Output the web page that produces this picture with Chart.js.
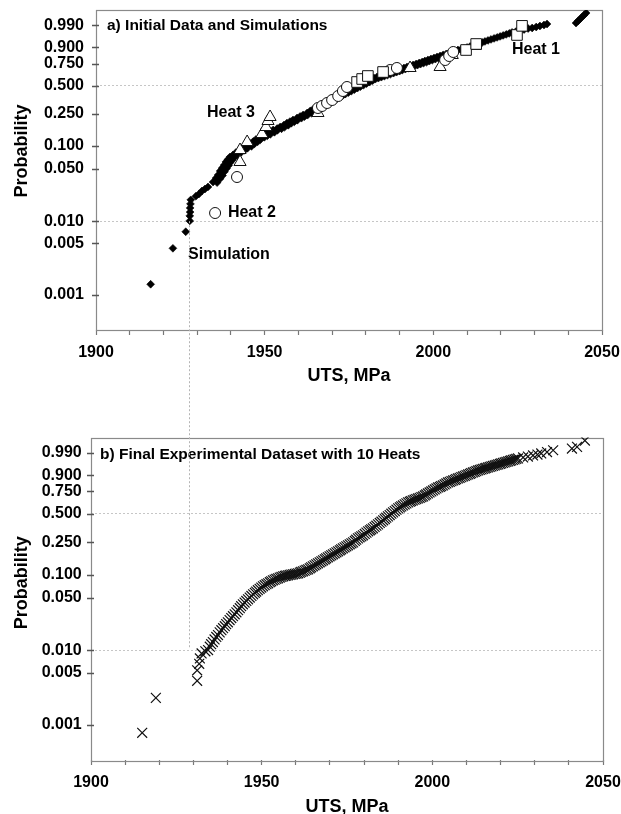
<!DOCTYPE html>
<html>
<head>
<meta charset="utf-8">
<script src="https://cdn.jsdelivr.net/npm/chart.js@4.4.0/dist/chart.umd.min.js"></script>
<style>
  html, body { margin: 0; padding: 0; background: #fff; }
  #wrap { position: relative; width: 621px; height: 814px; overflow: hidden; }
  #cA { position: absolute; left: 0; top: 0; }
  #cB { position: absolute; left: 0; top: 400px; }
  #overlay { position: absolute; left: 0; top: 0; pointer-events: none; }
</style>
</head>
<body>
<div id="wrap">
  <canvas id="cA" width="621" height="400"></canvas>
  <canvas id="cB" width="621" height="414"></canvas>
  <canvas id="overlay" width="621" height="814"></canvas>
</div>
<script>
const FONT = '"Liberation Sans", Arial, Helvetica, sans-serif';

// Weibull probability transform used for the vertical axis
const weib = p => Math.log(-Math.log(1 - p));

// Axis ticks
const probTicks = [0.001, 0.005, 0.010, 0.050, 0.100, 0.250, 0.500, 0.750, 0.900, 0.990];
const probTickLabels = ['0.001', '0.005', '0.010', '0.050', '0.100', '0.250', '0.500', '0.750', '0.900', '0.990'];
const probGrid = [0.010, 0.500];
const utsTicks = [1900, 1910, 1920, 1930, 1940, 1950, 1960, 1970, 1980, 1990, 2000, 2010, 2020, 2030, 2040, 2050];
const utsTickLabels = ['1900', '', '', '', '', '1950', '', '', '', '', '2000', '', '', '', '', '2050'];

// a) simulated strengths (MPa) and their plotting probabilities (overlaid runs)
const simUTS = [
  1916.2, 1922.8, 1926.6, 1927.8, 1927.8, 1927.9, 1927.9, 1928.0, 1928.1, 1929.6,
  1930.5, 1931.4, 1932.3, 1933.2, 1934.7, 1935.6, 1936.2, 1936.8, 1937.4, 1938.0,
  1938.5, 1939.1, 1939.7, 1940.6, 1941.5, 1942.7, 1943.6, 1944.8, 1945.7, 1946.6,
  1947.4, 1948.6, 1949.5, 1950.4, 1951.6, 1952.5, 1953.7, 1954.6, 1955.7, 1956.6,
  1957.5, 1958.4, 1959.6, 1960.5, 1961.4, 1962.6, 1963.5, 1964.3, 1965.5, 1966.4,
  1967.3, 1968.2, 1969.1, 1970.0, 1970.9, 1971.8, 1972.6, 1973.5, 1974.4, 1975.3,
  1976.2, 1977.1, 1978.0, 1978.9, 1979.8, 1980.7, 1981.5, 1982.4, 1983.3, 1984.2,
  1985.1, 1986.0, 1986.9, 1987.8, 1988.7, 1989.5, 1990.4, 1991.3, 1992.2, 1993.1,
  1994.0, 1994.9, 1995.8, 1996.7, 1997.5, 1998.4, 1999.3, 2000.2, 2001.1, 2002.0,
  2002.9, 2003.8, 2004.7, 2005.6, 2006.4, 2007.3, 2008.2, 2009.1, 2010.0, 2010.9,
  2011.8, 2012.7, 2013.6, 2014.5, 2015.3, 2016.2, 2017.1, 2018.0, 2018.9, 2019.8,
  2020.7, 2021.6, 2022.5, 2023.3, 2024.5, 2025.7, 2026.9, 2028.1, 2029.3, 2030.5,
  2031.6, 2032.8, 2033.7, 2042.3, 2042.9, 2043.5, 2044.1, 2044.7, 2045.3,
  1935.9, 1936.8, 1937.5, 1938.1, 1938.7, 1939.3, 1939.8, 1940.4, 1941.0, 1942.0,
  1942.9, 1944.0, 1944.9, 1946.1, 1947.0, 1947.9, 1948.7, 1949.9, 1950.8, 1951.7,
  1952.9, 1953.8, 1955.0, 1955.9, 1957.0, 1957.9, 1958.8, 1959.7, 1960.9, 1961.8,
  1962.7, 1963.9, 1964.8, 1965.6, 1966.8, 1967.7, 1968.6, 1969.5, 1970.4, 1971.3,
  1972.2, 1973.1, 1973.9, 1974.8, 1975.7, 1976.6, 1977.5, 1978.4, 1979.3, 1980.2,
  1981.1, 1982.0, 1982.8, 1983.7, 1984.6, 1985.5, 1986.4, 1987.3, 1988.2, 1989.1,
  1990.0, 1990.8, 1991.7, 1992.6, 1993.5, 1994.4, 1995.3, 1996.2, 1997.1, 1998.0,
  1998.8, 1999.7, 2000.6, 2001.5, 2002.4, 2003.3, 2004.2, 2005.1
];
const simProb = [
  0.0014, 0.0043, 0.0072, 0.0101, 0.0118, 0.0133, 0.0151, 0.0171, 0.0194, 0.0217,
  0.0232, 0.0255, 0.0271, 0.0289, 0.0336, 0.0380, 0.0417, 0.0471, 0.0516, 0.0565,
  0.0620, 0.0668, 0.0721, 0.0765, 0.0825, 0.0888, 0.0943, 0.1001, 0.1077, 0.1142,
  0.1212, 0.1303, 0.1362, 0.1421, 0.1506, 0.1595, 0.1664, 0.1739, 0.1837, 0.1943,
  0.2025, 0.2114, 0.2235, 0.2330, 0.2427, 0.2562, 0.2702, 0.2808, 0.2962, 0.3081,
  0.3242, 0.3409, 0.3540, 0.3675, 0.3856, 0.4000, 0.4145, 0.4293, 0.4446, 0.4600,
  0.4758, 0.4917, 0.5079, 0.5245, 0.5410, 0.5578, 0.5748, 0.5862, 0.5975, 0.6090,
  0.6206, 0.6321, 0.6437, 0.6551, 0.6665, 0.6779, 0.6893, 0.7007, 0.7120, 0.7231,
  0.7341, 0.7450, 0.7559, 0.7665, 0.7771, 0.7874, 0.7977, 0.8077, 0.8175, 0.8271,
  0.8365, 0.8456, 0.8545, 0.8631, 0.8715, 0.8795, 0.8835, 0.8912, 0.8986, 0.9058,
  0.9126, 0.9192, 0.9255, 0.9315, 0.9371, 0.9424, 0.9474, 0.9521, 0.9565, 0.9606,
  0.9645, 0.9681, 0.9714, 0.9745, 0.9770, 0.9796, 0.9820, 0.9842, 0.9852, 0.9870,
  0.9887, 0.9902, 0.9915, 0.9927, 0.9947, 0.9962, 0.9974, 0.9982, 0.9988,
  0.0330, 0.0372, 0.0410, 0.0462, 0.0508, 0.0556, 0.0610, 0.0660, 0.0712, 0.0758,
  0.0816, 0.0880, 0.0935, 0.0992, 0.1068, 0.1132, 0.1202, 0.1292, 0.1352, 0.1410,
  0.1495, 0.1583, 0.1652, 0.1728, 0.1825, 0.1930, 0.2012, 0.2100, 0.2222, 0.2318,
  0.2414, 0.2548, 0.2688, 0.2795, 0.2948, 0.3066, 0.3228, 0.3394, 0.3525, 0.3660,
  0.3840, 0.3985, 0.4130, 0.4278, 0.4430, 0.4585, 0.4742, 0.4900, 0.5062, 0.5228,
  0.5393, 0.5560, 0.5730, 0.5845, 0.5958, 0.6073, 0.6190, 0.6305, 0.6420, 0.6535,
  0.6650, 0.6765, 0.6878, 0.6992, 0.7105, 0.7216, 0.7326, 0.7436, 0.7545, 0.7651,
  0.7757, 0.7860, 0.7963, 0.8063, 0.8162, 0.8258, 0.8352, 0.8444
];

// a) initial experimental heats
const heat1UTS  = [1977.4, 1978.9, 1980.6, 1985.1, 2009.7, 2012.7, 2024.8, 2026.3];
const heat1Prob = [0.5411, 0.5748, 0.6091, 0.6551, 0.8796, 0.9222, 0.9661, 0.9889];
const heat2UTS  = [1935.3, 1941.8, 1965.8, 1967.0, 1968.5, 1970.0, 1971.8, 1973.2, 1974.4, 1987.2, 1989.2, 2003.5, 2004.7, 2005.9];
const heat2Prob = [0.0129, 0.0392, 0.2922, 0.3078, 0.3324, 0.3583, 0.3952, 0.4446, 0.4863, 0.6779, 0.7007, 0.7875, 0.8271, 0.8632];
const heat3UTS  = [1942.7, 1942.7, 1944.8, 1949.2, 1950.4, 1951.0, 1951.6, 1965.8, 1993.1, 2002.0, 2005.6, 2012.4];
const heat3Prob = [0.0619, 0.0888, 0.1125, 0.1422, 0.1738, 0.2056, 0.2297, 0.2560, 0.7007, 0.7120, 0.8365, 0.9092];

// b) final dataset, 10 heats
const finalUTS = [
  1915.0, 1919.0, 1931.1, 1931.1, 1931.7, 1931.9, 1932.4, 1933.5, 1934.3, 1934.8,
  1935.2, 1935.7, 1936.2, 1936.7, 1937.2, 1937.7, 1938.2, 1938.7, 1939.2, 1939.6,
  1940.1, 1940.6, 1941.1, 1941.6, 1942.1, 1942.6, 1943.1, 1943.6, 1944.0, 1944.5,
  1945.0, 1945.5, 1946.0, 1946.5, 1947.0, 1947.5, 1948.0, 1948.4, 1948.9, 1949.4,
  1949.9, 1950.4, 1950.9, 1951.4, 1951.9, 1952.4, 1952.8, 1953.3, 1953.8, 1954.3,
  1954.8, 1955.3, 1955.8, 1956.3, 1956.8, 1957.2, 1957.7, 1958.2, 1958.7, 1959.2,
  1959.7, 1960.2, 1960.7, 1961.2, 1961.6, 1962.1, 1962.6, 1963.1, 1963.6, 1964.1,
  1964.5, 1965.0, 1965.5, 1966.0, 1966.5, 1967.0, 1967.5, 1968.0, 1968.5, 1968.9,
  1969.4, 1969.9, 1970.4, 1970.9, 1971.4, 1971.9, 1972.4, 1972.9, 1973.3, 1973.8,
  1974.3, 1974.8, 1975.3, 1975.8, 1976.3, 1976.8, 1977.3, 1977.7, 1978.2, 1978.7,
  1979.2, 1979.7, 1980.2, 1980.7, 1981.2, 1981.7, 1982.1, 1982.6, 1983.1, 1983.6,
  1984.1, 1984.6, 1985.1, 1985.6, 1986.1, 1986.5, 1987.0, 1987.5, 1988.0, 1988.5,
  1989.0, 1989.5, 1990.0, 1990.5, 1990.9, 1991.4, 1991.9, 1992.4, 1992.9, 1993.4,
  1993.8, 1994.3, 1994.8, 1995.3, 1995.8, 1996.3, 1996.8, 1997.3, 1997.8, 1998.2,
  1998.7, 1999.2, 1999.7, 2000.2, 2000.7, 2001.2, 2001.7, 2002.2, 2002.6, 2003.1,
  2003.6, 2004.1, 2004.6, 2005.1, 2005.6, 2006.1, 2006.6, 2007.0, 2007.5, 2008.0,
  2008.5, 2009.0, 2009.5, 2010.0, 2010.5, 2011.0, 2011.4, 2011.9, 2012.4, 2012.9,
  2013.4, 2013.9, 2014.4, 2014.9, 2015.4, 2015.8, 2016.3, 2016.8, 2017.3, 2017.8,
  2018.3, 2018.8, 2019.3, 2019.8, 2020.2, 2020.7, 2021.2, 2021.7, 2022.2, 2022.7,
  2023.1, 2023.6, 2024.1, 2024.6, 2025.1, 2026.6, 2028.0, 2029.5, 2030.8, 2031.9,
  2033.6, 2035.4, 2040.9, 2042.4, 2044.7
];
const finalProb = [
  0.00078, 0.0023, 0.0039, 0.0054, 0.0066, 0.0078, 0.0091, 0.0097, 0.0101, 0.0112,
  0.0121, 0.0129, 0.0140, 0.0151, 0.0160, 0.0174, 0.0186, 0.0198, 0.0210, 0.0224,
  0.0237, 0.0254, 0.0270, 0.0286, 0.0303, 0.0322, 0.0343, 0.0365, 0.0388, 0.0411,
  0.0433, 0.0455, 0.0478, 0.0503, 0.0529, 0.0556, 0.0581, 0.0604, 0.0628, 0.0655,
  0.0681, 0.0707, 0.0729, 0.0751, 0.0773, 0.0797, 0.0820, 0.0844, 0.0861, 0.0879,
  0.0896, 0.0915, 0.0933, 0.0951, 0.0960, 0.0970, 0.0979, 0.0989, 0.0999, 0.1009,
  0.1018, 0.1028, 0.1038, 0.1059, 0.1080, 0.1101, 0.1122, 0.1144, 0.1166, 0.1201,
  0.1237, 0.1273, 0.1311, 0.1349, 0.1388, 0.1429, 0.1471, 0.1513, 0.1557, 0.1602,
  0.1647, 0.1695, 0.1743, 0.1792, 0.1844, 0.1896, 0.1948, 0.2005, 0.2061, 0.2118,
  0.2178, 0.2237, 0.2297, 0.2361, 0.2424, 0.2488, 0.2581, 0.2674, 0.2767, 0.2843,
  0.2919, 0.2995, 0.3102, 0.3209, 0.3316, 0.3402, 0.3487, 0.3573, 0.3694, 0.3814,
  0.3935, 0.4064, 0.4194, 0.4323, 0.4458, 0.4592, 0.4727, 0.4870, 0.5014, 0.5157,
  0.5303, 0.5450, 0.5596, 0.5709, 0.5821, 0.5934, 0.6048, 0.6163, 0.6277, 0.6353,
  0.6429, 0.6505, 0.6579, 0.6653, 0.6727, 0.6803, 0.6879, 0.6955, 0.7066, 0.7177,
  0.7288, 0.7396, 0.7504, 0.7612, 0.7715, 0.7818, 0.7921, 0.7988, 0.8054, 0.8121,
  0.8215, 0.8310, 0.8404, 0.8463, 0.8521, 0.8580, 0.8636, 0.8691, 0.8747, 0.8799,
  0.8851, 0.8903, 0.8950, 0.8998, 0.9045, 0.9089, 0.9134, 0.9178, 0.9219, 0.9259,
  0.9300, 0.9328, 0.9356, 0.9384, 0.9409, 0.9434, 0.9459, 0.9483, 0.9506, 0.9530,
  0.9551, 0.9573, 0.9594, 0.9613, 0.9632, 0.9651, 0.9668, 0.9686, 0.9703, 0.9718,
  0.9733, 0.9748, 0.9762, 0.9775, 0.9789, 0.9813, 0.9834, 0.9855, 0.9872, 0.9889,
  0.9910, 0.9931, 0.9947, 0.9960, 0.9988
];

// Lower bound marked by the dotted connector between the panels
const thresholdUTS = 1927.6;
const connectorTopProb = 0.010;
const connectorBottomProb = 0.011;

const pts = (xs, ps) => xs.map((x, i) => ({ x: x, y: weib(ps[i]) }));

// Frame, straddling y tick marks, panel title, point labels, y-axis title
const panelDecor = {
  id: 'panelDecor',
  beforeDatasetsDraw(chart, args, o) {
    const { ctx, chartArea: ca, scales: { y } } = chart;
    ctx.save();
    ctx.strokeStyle = '#8a8a8a';
    ctx.lineWidth = 1.2;
    ctx.strokeRect(Math.round(ca.left) + 0.5, Math.round(ca.top) + 0.5,
                   Math.round(ca.right - ca.left), Math.round(ca.bottom - ca.top));
    ctx.beginPath();
    probTicks.forEach(p => {
      const yy = Math.round(y.getPixelForValue(weib(p))) + 0.5;
      ctx.moveTo(ca.left - 4, yy);
      ctx.lineTo(ca.left + 3, yy);
    });
    ctx.strokeStyle = '#555';
    ctx.lineWidth = 1.3;
    ctx.stroke();
    ctx.restore();
  },
  afterDatasetsDraw(chart, args, o) {
    const { ctx, chartArea: ca, scales: { x, y } } = chart;
    ctx.save();
    ctx.fillStyle = '#000';
    ctx.textBaseline = 'middle';
    ctx.textAlign = 'left';
    ctx.font = 'bold ' + o.titleSize + 'px ' + FONT;
    ctx.fillText(o.title, ca.left + o.titleDx, ca.top + o.titleDy);
    ctx.font = 'bold 16px ' + FONT;
    (o.labels || []).forEach(l => {
      ctx.fillText(l.text, x.getPixelForValue(l.uts), y.getPixelForValue(weib(l.prob)));
    });
    ctx.restore();
  },
  afterDraw(chart, args, o) {
    const { ctx, chartArea: ca } = chart;
    ctx.save();
    ctx.fillStyle = '#000';
    ctx.font = 'bold 18px ' + FONT;
    ctx.textAlign = 'center';
    ctx.textBaseline = 'middle';
    ctx.translate(o.yTitleX, (ca.top + ca.bottom) / 2 + o.yTitleDy);
    ctx.rotate(-Math.PI / 2);
    ctx.fillText('Probability', 0, 0);
    ctx.restore();
  }
};

function panelOptions(o) {
  const tickFont = { family: FONT, size: 16, weight: 'bold' };
  return {
    responsive: false,
    animation: false,
    events: [],
    layout: { padding: { left: 0, right: o.padRight, top: o.padTop, bottom: 0 } },
    plugins: {
      legend: { display: false },
      tooltip: { enabled: false },
      panelDecor: o.decor
    },
    scales: {
      x: {
        type: 'linear', min: 1900, max: 2050,
        afterBuildTicks: a => { a.ticks = utsTicks.map(v => ({ value: v })); },
        afterFit: a => { a.height = o.xAxisHeight; a.paddingLeft = 0; a.paddingRight = 0; },
        ticks: {
          autoSkip: false, maxRotation: 0, minRotation: 0, padding: o.xTickPad,
          color: '#000', font: tickFont,
          callback: (v, i) => utsTickLabels[i]
        },
        grid: { drawOnChartArea: false, drawTicks: true, tickLength: 5, tickWidth: 1.2, tickColor: '#777', color: '#777' },
        border: { display: false },
        title: {
          display: true, text: 'UTS, MPa', color: '#000',
          font: { family: FONT, size: 18, weight: 'bold' },
          padding: { top: 0, bottom: o.xTitlePad }
        }
      },
      y: {
        type: 'linear', min: -8, max: 2,
        afterBuildTicks: a => { a.ticks = probTicks.map(p => ({ value: weib(p) })); },
        afterFit: a => { a.width = o.yAxisWidth; a.paddingTop = 0; a.paddingBottom = 0; },
        ticks: {
          autoSkip: false, padding: o.yTickPad, color: '#000', font: tickFont,
          callback: (v, i) => probTickLabels[i]
        },
        grid: {
          drawTicks: false, lineWidth: 1,
          color: c => (c.tick && probGrid.some(p => Math.abs(weib(p) - c.tick.value) < 1e-9)) ? '#c6c6c6' : 'rgba(0,0,0,0)'
        },
        border: { display: false, dash: [2, 2] }
      }
    }
  };
}

const chartA = new Chart(document.getElementById('cA'), {
  type: 'scatter',
  data: {
    datasets: [
      { label: 'Heat 1', data: pts(heat1UTS, heat1Prob), pointStyle: 'rect', pointRadius: 7.5,
        backgroundColor: '#fff', borderColor: '#111', borderWidth: 1 },
      { label: 'Heat 2', data: pts(heat2UTS, heat2Prob), pointStyle: 'circle', pointRadius: 5.5,
        backgroundColor: '#fff', borderColor: '#111', borderWidth: 1 },
      { label: 'Heat 3', data: pts(heat3UTS, heat3Prob), pointStyle: 'triangle', pointRadius: 7,
        backgroundColor: '#fff', borderColor: '#111', borderWidth: 1 },
      { label: 'Simulation', data: pts(simUTS, simProb), pointStyle: 'rectRot', pointRadius: 3.9,
        backgroundColor: '#000', borderColor: '#000', borderWidth: 0.6 }
    ]
  },
  options: panelOptions({
    padRight: 19, padTop: 10, xAxisHeight: 70, yAxisWidth: 96,
    xTickPad: 8.4, xTitlePad: 13.2, yTickPad: 12,
    decor: {
      title: 'a) Initial Data and Simulations', titleSize: 15.5, titleDx: 11, titleDy: 15.5,
      yTitleX: 22, yTitleDy: -19,
      labels: [
        { text: 'Heat 1', uts: 2023.3, prob: 0.8796 },
        { text: 'Heat 2', uts: 1939.1, prob: 0.0129 },
        { text: 'Heat 3', uts: 1932.9, prob: 0.2607 },
        { text: 'Simulation', uts: 1927.3, prob: 0.0035 }
      ]
    }
  }),
  plugins: [panelDecor]
});

const chartB = new Chart(document.getElementById('cB'), {
  type: 'scatter',
  data: {
    datasets: [
      { label: '10 Heats', data: pts(finalUTS, finalProb), pointStyle: 'crossRot', pointRadius: 7,
        backgroundColor: '#111', borderColor: '#111', borderWidth: 1.2 }
    ]
  },
  options: panelOptions({
    padRight: 18, padTop: 37.5, xAxisHeight: 54, yAxisWidth: 91,
    xTickPad: 8.4, xTitlePad: -3.8, yTickPad: 9.3,
    decor: {
      title: 'b) Final Experimental Dataset with 10 Heats', titleSize: 15.5, titleDx: 9, titleDy: 17.5,
      yTitleX: 22, yTitleDy: -16,
      labels: []
    }
  }),
  plugins: [panelDecor]
});

// Dotted connector running from panel a down into panel b
function drawConnector() {
  const ov = document.getElementById('overlay');
  const ctx = ov.getContext('2d');
  ctx.clearRect(0, 0, ov.width, ov.height);
  const offB = document.getElementById('cB').offsetTop;
  const xPix = Math.round(chartA.scales.x.getPixelForValue(thresholdUTS)) + 0.5;
  const yTop = chartA.scales.y.getPixelForValue(weib(connectorTopProb));
  const yBot = offB + chartB.scales.y.getPixelForValue(weib(connectorBottomProb));
  ctx.save();
  ctx.strokeStyle = '#b4b4b4';
  ctx.lineWidth = 1;
  ctx.setLineDash([2, 2]);
  ctx.beginPath();
  ctx.moveTo(xPix, yTop);
  ctx.lineTo(xPix, yBot);
  ctx.stroke();
  ctx.restore();
}
drawConnector();
</script>
</body>
</html>
